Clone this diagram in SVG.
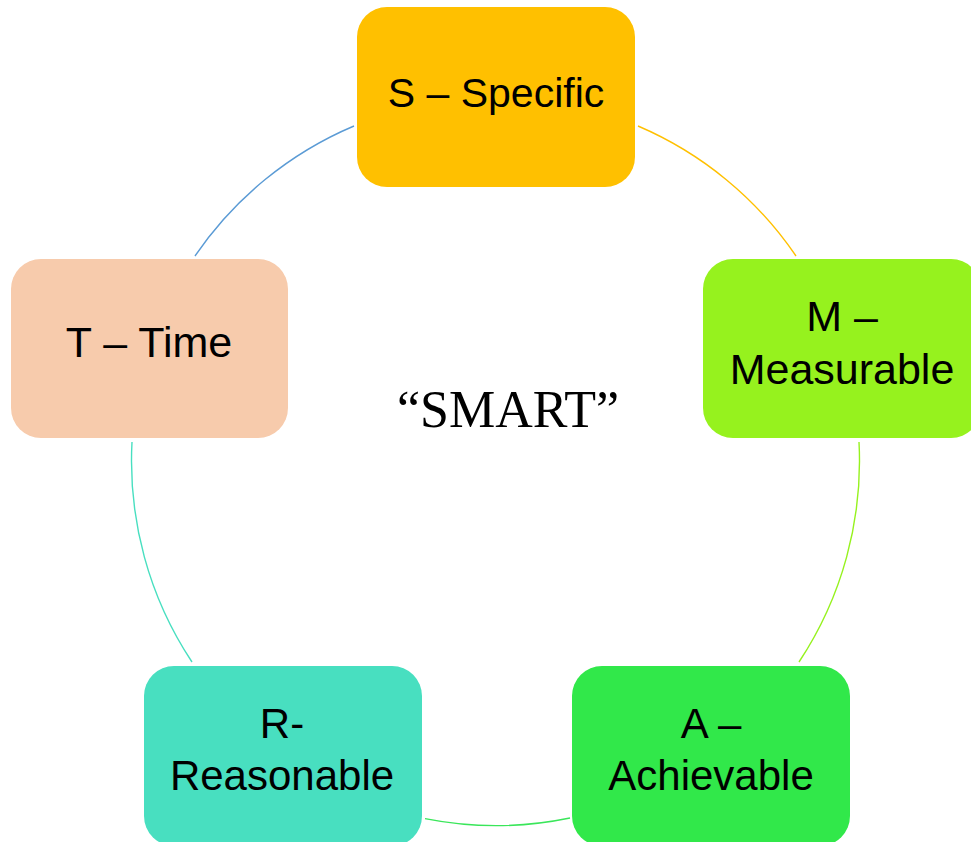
<svg xmlns="http://www.w3.org/2000/svg" width="971" height="842" viewBox="0 0 971 842">
  <style>
    .box { stroke: none; }
    .lbl { font-family: "Liberation Sans", Arial, sans-serif; font-size: 43px; fill: #000; text-anchor: middle; }
    .arc { fill: none; stroke-width: 1.4; }
    .center { font-family: "Liberation Serif", "Times New Roman", serif; font-size: 52px; fill: #000; text-anchor: middle; }
  </style>
  <rect width="971" height="842" fill="#ffffff"/>
  <g id="connectors">
    <path class="arc" stroke="#FFC000" d="M 638 126 A 364 364 0 0 1 796 256"/>
    <path class="arc" stroke="#96F21E" d="M 859 442 A 364 364 0 0 1 799 662"/>
    <path class="arc" stroke="#3AE65A" d="M 570 818 A 364 364 0 0 1 425 818.6"/>
    <path class="arc" stroke="#48DFC0" d="M 192 662 A 364 364 0 0 1 132 442"/>
    <path class="arc" stroke="#5B9BD5" d="M 195 256 A 364 364 0 0 1 354 126"/>
  </g>
  <g id="node-s">
    <rect class="box" x="357" y="7" width="278" height="180" rx="30" fill="#FFC000"/>
    <text class="lbl" x="496" y="107" style="font-size:41px">S – Specific</text>
  </g>
  <g id="node-m">
    <rect class="box" x="703" y="259" width="278" height="179" rx="30" fill="#96F21E"/>
    <text class="lbl" x="842" y="331">M –</text>
    <text class="lbl" x="842" y="384">Measurable</text>
  </g>
  <g id="node-a">
    <rect class="box" x="572" y="666" width="278" height="180" rx="30" fill="#31E84A"/>
    <text class="lbl" x="711" y="738" style="font-size:42px">A –</text>
    <text class="lbl" x="711" y="790" style="font-size:42px">Achievable</text>
  </g>
  <g id="node-r">
    <rect class="box" x="144" y="666" width="278" height="180" rx="30" fill="#48DFC0"/>
    <text class="lbl" x="282" y="738" style="font-size:42px">R-</text>
    <text class="lbl" x="282" y="790" style="font-size:42px">Reasonable</text>
  </g>
  <g id="node-t">
    <rect class="box" x="11" y="259" width="277" height="179" rx="30" fill="#F7CBAC"/>
    <text class="lbl" x="149" y="357">T – Time</text>
  </g>
  <g id="center-label">
    <text class="center" x="508" y="427">“SMART”</text>
  </g>
</svg>
